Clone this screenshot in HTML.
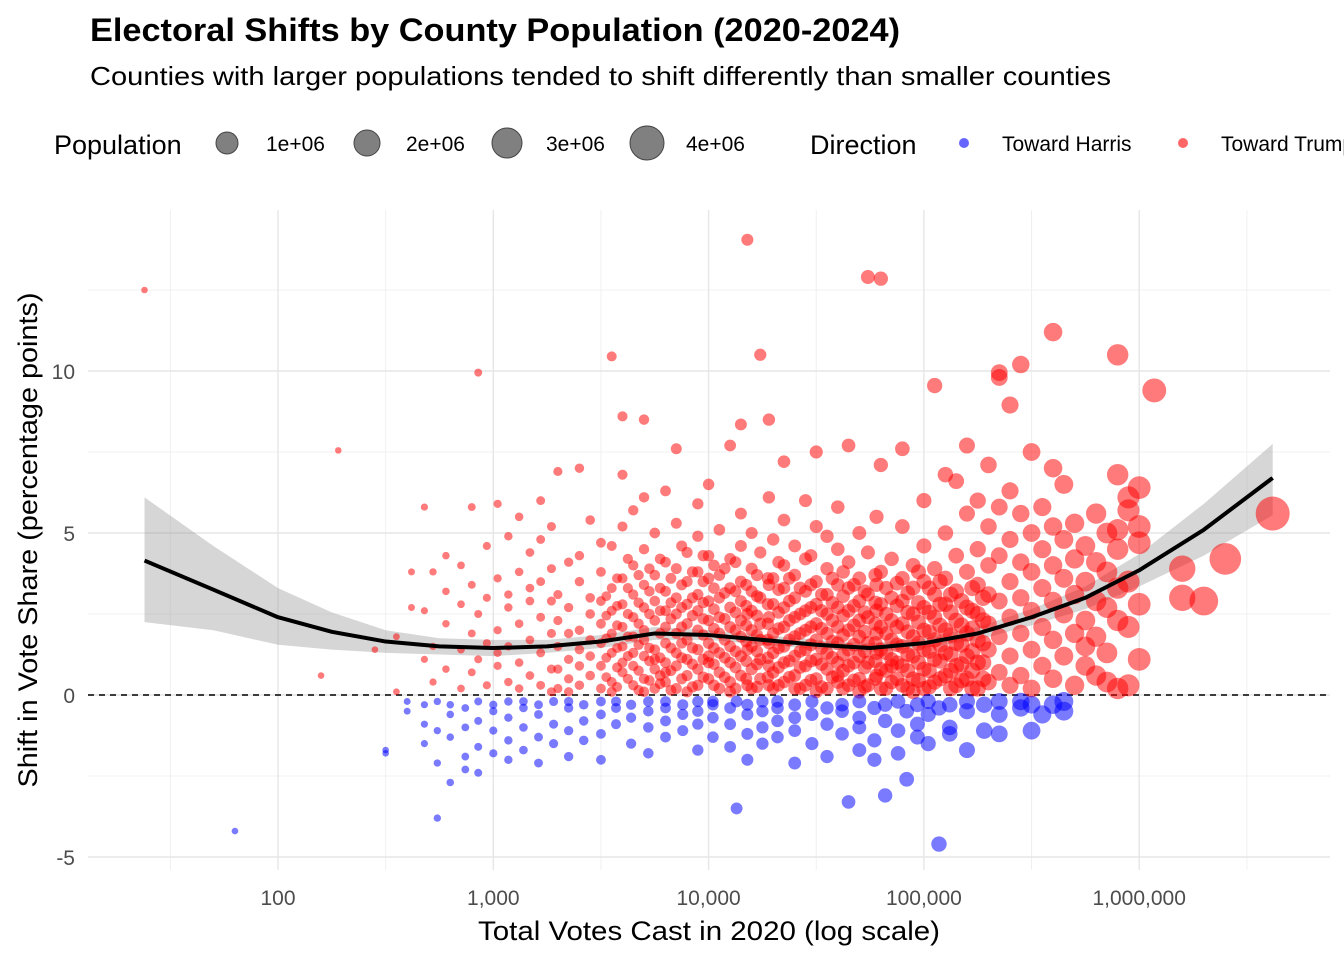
<!DOCTYPE html>
<html><head><meta charset="utf-8"><style>
body{margin:0;background:#fff;width:1344px;height:960px;overflow:hidden;font-family:"Liberation Sans",Arial,sans-serif}
svg text{font-family:"Liberation Sans",Arial,sans-serif}
</style></head><body>
<svg id="chart" width="1344" height="960" xmlns="http://www.w3.org/2000/svg">
<text x="90" y="41" font-size="32" font-weight="bold" fill="#000" textLength="810" lengthAdjust="spacingAndGlyphs">Electoral Shifts by County Population (2020-2024)</text>
<text x="90" y="85" font-size="26" fill="#000" textLength="1021" lengthAdjust="spacingAndGlyphs">Counties with larger populations tended to shift differently than smaller counties</text>
<g id="legend"></g>
<g id="grid"></g>
<g id="band"></g>
<line x1="88" x2="1330" y1="695" y2="695" stroke="#000" stroke-width="1.6" stroke-dasharray="6,5"/>
<g id="pts"></g>
<g id="smooth"></g>
<g id="axes"></g>
<text x="709" y="940" font-size="27" text-anchor="middle" fill="#000" textLength="462" lengthAdjust="spacingAndGlyphs">Total Votes Cast in 2020 (log scale)</text>
<text transform="translate(37,540) rotate(-90)" font-size="27" text-anchor="middle" fill="#000" textLength="495" lengthAdjust="spacingAndGlyphs">Shift in Vote Share (percentage points)</text>
</svg>
<script>
const xTicks=[100,1000,10000,100000,1000000];
const xTickLabels=["100","1,000","10,000","100,000","1,000,000"];
const yTicks=[-5,0,5,10];
const smoothX=[1.38,1.7,2.0,2.25,2.5,2.75,3.0,3.25,3.5,3.75,4.0,4.25,4.5,4.75,5.0,5.25,5.5,5.75,6.0,6.3,6.62];
const smoothY=[4.15,3.25,2.4,1.95,1.65,1.5,1.45,1.5,1.65,1.9,1.85,1.7,1.55,1.45,1.6,1.9,2.4,3.0,3.85,5.1,6.7];
const smoothLo=[2.25,2.0,1.55,1.4,1.3,1.25,1.2,1.3,1.45,1.7,1.7,1.55,1.42,1.33,1.45,1.7,2.15,2.65,3.35,4.3,5.55];
const smoothHi=[6.1,4.6,3.3,2.55,2.0,1.75,1.7,1.7,1.85,2.1,2.0,1.85,1.7,1.6,1.75,2.1,2.65,3.35,4.35,5.9,7.75];
// county points: "log10(votes):shift,shift,..." groups
const redData="1.38:12.5|2.2:0.6|2.28:7.55|2.45:1.4|2.55:0.1,1.8|2.62:2.7,3.8|2.68:1.1,5.8,2.6|2.72:3.8,1.5,0.4|2.78:4.3,2.2,0.8,3.2|2.85:1.4,0.2,4.0,2.8|2.9:5.8,1.9,0.7,3.4|2.93:9.95,2.5,1.1|2.97:0.3,4.6,3.0,1.6|3.02:5.9,2.0,0.9,3.6,1.3|3.07:0.4,2.7,4.9,1.5,3.1|3.12:5.5,1.0,2.2,3.8,0.2|3.17:2.9,1.7,4.4,0.6,3.3|3.22:0.3,1.3,2.4,3.5,4.8,6.0|3.27:1.9,0.8,2.9,5.2,3.9,0.1|3.3:0.2,0.8,1.5,2.3,3.1,6.9|3.35:0.5,1.1,1.9,2.7,0.1,4.1|3.4:0.3,1.4,2.0,3.5,0.9,4.3,7.0|3.45:0.6,1.2,2.5,1.7,3.0,5.4|3.5:0.2,0.9,1.6,2.2,2.9,3.8,4.7|3.55:0.4,1.3,1.9,2.6,3.3,4.6,0.1,10.45|3.6:0.7,1.0,1.5,2.1,2.8,3.6,5.2,8.6,6.8|3.65:0.3,0.9,1.8,2.4,3.1,4.0,1.3,5.7|3.7:0.5,1.2,1.7,2.0,2.7,3.4,4.5,0.1,8.5,6.1|3.75:0.2,0.8,1.4,2.3,2.9,3.7,1.1,5.0|3.8:0.4,1.0,1.6,2.1,2.6,3.2,4.1,0.7,6.3|3.85:0.2,0.9,1.3,1.9,2.5,3.0,3.9,5.3,7.6|3.9:0.6,1.1,1.7,2.2,2.8,3.5,4.4,0.1|3.95:0.3,0.8,1.4,2.0,2.6,3.1,3.8,4.9,5.9|4.0:0.5,1.2,1.6,2.3,2.9,3.6,4.3,1.0,6.5|4.05:0.2,0.7,1.3,1.9,2.4,3.0,3.7,5.1|4.1:0.4,1.0,1.5,2.1,2.7,3.3,4.2,0.1,7.7|4.15:0.6,1.2,1.8,2.3,2.9,3.5,4.6,8.35,5.6|4.18:14.05,0.3,1.4,2.5|4.2:0.2,0.8,1.5,2.0,2.6,3.2,3.9,5.0|4.24:10.5,0.5,1.1,1.7,2.2,3.0,4.4|4.28:8.5,0.3,0.9,1.6,2.4,3.4,6.1|4.3:0.2,1.3,1.9,2.8,3.6,4.8,0.7|4.35:0.4,1.0,1.5,2.1,2.7,3.3,4.0,5.4,7.2|4.4:0.6,1.2,1.8,2.4,3.0,3.7,0.2,4.6|4.45:0.3,0.9,1.4,2.0,2.6,3.2,4.2,6.0|4.5:0.5,1.1,1.7,2.2,2.8,3.5,0.1,7.5,5.2|4.55:0.2,0.8,1.3,1.9,2.5,3.1,3.9,4.9|4.6:0.4,1.0,1.6,2.1,2.7,3.4,4.5,0.6,5.8|4.65:0.3,0.9,1.4,2.0,2.6,3.3,4.1,7.7|4.7:0.5,1.2,1.8,2.3,2.9,3.6,5.0,0.1|4.74:12.9,0.3,1.0,1.6,2.4,3.1,4.4|4.78:0.6,1.3,1.9,2.6,3.4,5.5|4.8:12.85,0.2,0.8,1.4,2.1,2.8,3.8,7.1|4.85:0.4,1.1,1.7,2.3,3.0,4.2,0.9|4.9:0.3,0.9,1.5,2.2,2.9,3.6,5.2,7.6|4.95:0.5,1.2,1.8,2.5,3.3,4.0,0.1|5.0:0.2,0.8,1.4,2.0,2.7,3.5,4.6,6.0|5.05:9.55,0.4,1.1,1.7,2.4,3.1,3.9|5.1:0.6,1.3,2.0,2.8,3.6,5.0,6.8|5.15:0.3,0.9,1.6,2.3,3.2,4.3,6.6|5.2:0.5,1.2,1.9,2.7,3.8,5.6,7.7|5.25:0.2,1.0,1.7,2.5,3.4,4.5,6.0|5.3:0.4,1.4,2.2,3.1,4.0,5.2,7.1|5.35:9.95,9.8,0.7,1.8,2.9,4.3,5.8|5.4:0.3,1.2,2.4,3.5,4.8,6.3,8.95|5.45:10.2,0.6,1.9,3.0,4.1,5.6|5.5:0.2,1.4,2.6,3.8,5.0,7.5|5.55:0.9,2.1,3.3,4.5,5.8|5.6:11.2,0.5,1.7,2.9,4.0,5.2,7.0|5.65:1.2,2.5,3.6,4.8,6.5|5.7:0.3,1.9,3.1,4.2,5.3|5.75:0.9,2.3,3.5,4.6,1.5|5.8:0.6,1.8,2.9,4.1,5.6|5.85:1.3,2.7,3.8,5.0,0.4|5.9:10.5,0.2,2.3,3.3,4.5,5.1,6.8|5.95:0.3,3.5,5.7,6.1,2.1|6.0:5.2,4.7,6.4,1.1,2.8|6.07:9.4|6.2:3.0,3.9|6.3:2.9|6.4:4.2|6.62:5.6";
const redCore="3.525:0.55,1.15,1.75,2.45,3.05|3.575:0.25,0.85,1.45,2.15,2.75,3.6|3.625:0.5,1.2,1.8,2.5,3.3,4.2|3.675:0.15,0.75,1.55,2.2,2.85,3.7|3.725:0.45,1.05,1.45,2.5,3.2,3.9|3.775:0.35,0.6,1.15,1.9,2.6,3.3,4.2|3.825:0.15,0.75,1.45,2.35,2.85,3.6|3.875:0.5,1.15,1.6,2.1,2.7,3.4,4.6|3.925:0.25,0.95,1.45,2.45,3.0,3.8|3.975:0.55,1.1,1.85,2.35,2.85,3.5,4.3|4.025:0.3,0.95,1.45,2.05,2.65,3.3,4.0|4.075:0.55,1.15,1.7,2.35,3.15,3.9|4.125:0.2,0.85,1.35,2.0,2.55,3.2,4.1|4.175:0.5,1.05,1.65,2.15,2.75,3.4|4.225:0.25,0.95,1.35,1.85,2.45,3.05,3.7|4.275:0.55,1.15,1.7,2.2,2.8,3.6|4.325:0.3,0.85,1.45,2.05,2.55,3.25,4.1|4.375:0.55,1.05,1.7,2.3,2.9,3.6|4.425:0.2,0.85,1.35,1.9,2.5,3.3|4.475:0.45,1.05,1.55,2.1,2.7,3.4,4.3|4.525:0.25,0.95,1.45,2.05,2.6,3.1|4.575:0.55,1.15,1.65,2.3,2.85,3.6|4.625:0.2,0.75,1.25,1.85,2.45,3.05,3.8|4.675:0.45,1.0,1.55,2.15,2.75,3.4|4.725:0.25,0.85,1.35,1.95,2.55,3.2|4.775:0.5,1.05,1.6,2.2,2.85,3.7|4.825:0.2,0.75,1.3,1.9,2.5,3.3|4.875:0.5,1.0,1.55,2.1,2.75,3.45|4.925:0.2,0.75,1.25,1.95,2.55,3.15|4.975:0.45,1.0,1.6,2.25,2.85,3.8|5.025:0.25,0.75,1.35,1.95,2.55,3.3|5.075:0.5,1.05,1.55,2.15,2.8,3.5|5.125:0.2,0.75,1.25,1.85,2.55,3.1|5.175:0.45,0.95,1.55,2.15,2.9|5.225:0.2,0.75,1.35,2.05,2.6,3.3|5.275:0.5,1.0,1.6,2.3,3.0";
const blueData="1.8:-4.2|2.5:-1.8,-1.7|2.6:-0.2,-0.5|2.68:-0.3,-0.9,-1.5|2.74:-3.8,-0.2,-1.1,-2.1|2.8:-2.7,-0.6,-1.3,-0.3|2.87:-0.4,-1.9,-1.0,-2.3|2.93:-0.2,-0.8,-1.6,-2.4|3.0:-0.5,-1.1,-0.3,-1.8|3.07:-0.2,-0.7,-1.4,-2.0|3.14:-0.4,-1.0,-0.2,-1.7|3.21:-0.6,-1.3,-0.3,-2.1|3.28:-0.2,-0.9,-1.5|3.35:-0.4,-1.1,-0.2,-1.9|3.42:-0.3,-0.8,-1.4|3.5:-0.2,-0.6,-1.2,-2.0|3.57:-0.4,-0.9,-0.2|3.64:-0.3,-0.7,-1.5|3.72:-0.2,-0.5,-1.0,-1.8|3.8:-0.4,-0.8,-0.2,-1.3|3.88:-0.3,-0.6,-1.1|3.95:-0.2,-0.5,-0.9,-1.7|4.02:-0.3,-0.7,-1.3,-0.2|4.1:-0.4,-0.9,-1.6|4.13:-3.5,-0.2|4.18:-0.3,-0.6,-1.2,-2.0|4.25:-0.2,-0.5,-1.0,-1.5|4.32:-0.4,-0.8,-1.3,-0.2|4.4:-0.3,-0.7,-1.1,-2.1|4.48:-0.2,-0.6,-1.5|4.55:-0.4,-0.9,-1.9|4.62:-0.3,-0.5,-1.2|4.65:-3.3|4.7:-0.2,-0.7,-1.7,-1.0|4.77:-0.4,-1.4,-2.0|4.82:-3.1,-0.3,-0.8|4.88:-0.2,-1.1,-1.8|4.92:-2.6,-0.5|4.97:-0.3,-0.9,-1.3|5.02:-0.6,-1.5,-0.2|5.07:-4.6,-0.4|5.12:-0.3,-1.0,-1.2|5.2:-0.5,-1.7,-0.2|5.28:-0.3,-1.1|5.35:-0.2,-0.6,-1.2|5.45:-0.4,-0.2|5.5:-1.1,-0.3|5.55:-0.6|5.6:-0.3|5.65:-0.5,-0.2";

const X=v=>278+(v-2)*215.3, Y=v=>695-v*32.4;
const S="http://www.w3.org/2000/svg";
function mk(t,a,p){const e=document.createElementNS(S,t);for(const k in a)e.setAttribute(k,a[k]);p.appendChild(e);return e;}
const grid=document.getElementById('grid');
[1.5,2.5,3.5,4.5,5.5,6.5].forEach(l=>{const g=mk('line',{x1:X(l),x2:X(l),y1:210,y2:870,stroke:'#f0f0f0','stroke-width':1},grid);});
[-2.5,2.5,7.5,12.5].forEach(v=>{const g=mk('line',{x1:88,x2:1330,y1:Y(v),y2:Y(v),stroke:'#f0f0f0','stroke-width':1},grid);});
const axes=document.getElementById('axes');
xTicks.forEach((t,i)=>{const l=Math.log10(t);const g=mk('line',{x1:X(l),x2:X(l),y1:210,y2:870,stroke:'#e6e6e6','stroke-width':1.4},grid);
const tx=mk('text',{x:X(l),y:905,'font-size':21,'text-anchor':'middle',fill:'#4d4d4d'},axes);tx.textContent=xTickLabels[i];});
yTicks.forEach(t=>{const g=mk('line',{x1:88,x2:1330,y1:Y(t),y2:Y(t),stroke:'#e6e6e6','stroke-width':1.4},grid);
const tx=mk('text',{x:75,y:Y(t)+8,'font-size':21,'text-anchor':'end',fill:'#4d4d4d'},axes);tx.textContent=t;});
let d='M'+smoothX.map((x,i)=>X(x)+','+Y(smoothHi[i])).join('L')+'L'+smoothX.map((x,i)=>X(x)+','+Y(smoothLo[i])).reverse().join('L')+'Z';
const rb=mk('path',{d:d,fill:'#999',opacity:0.4},document.getElementById('band'));

const pts=document.getElementById('pts');
function draw(str,col){str.split('|').forEach(grp=>{const [lx,ys]=grp.split(':');const x=+lx;const r=3.3+Math.max(0,x-2.5)*1.6+Math.pow(10,x)/1e6*2.5;
ys.split(',').forEach(y=>{const c=mk('circle',{cx:X(x),cy:Y(+y),r:Math.min(r,17),fill:col,'fill-opacity':0.52},pts);});});}
draw(redData,'#f00');draw(redCore,'#f00');draw(blueData,'#00f');
const sl=mk('path',{d:'M'+smoothX.map((x,i)=>X(x)+','+Y(smoothY[i])).join('L'),fill:'none',stroke:'#000','stroke-width':4,'stroke-linejoin':'round'},document.getElementById('smooth'));

const lg=document.getElementById('legend');
function t(x,y,s,txt,n){const e=mk('text',{x:x,y:y,'font-size':s,fill:'#000'},lg);e.textContent=txt;}
t(54,154,27,'Population','legend-title-population');
const sizes=[["1e+06",11],["2e+06",13],["3e+06",15],["4e+06",17]];
sizes.forEach((s,i)=>{const cx=227+i*140;const c=mk('circle',{cx:cx,cy:143,r:s[1],fill:'#808080',stroke:'#444','stroke-width':1},lg);t(cx+39,151,21,s[0],'legend-entry-size');});
t(810,154,27,'Direction','legend-title-direction');
[["Toward Harris","#00f",964],["Toward Trump","#f00",1183]].forEach(e=>{const c=mk('circle',{cx:e[2],cy:143,r:5,fill:e[1],'fill-opacity':0.6},lg);t(e[2]+38,151,21,e[0],'legend-entry-direction');});
</script>
</body></html>
